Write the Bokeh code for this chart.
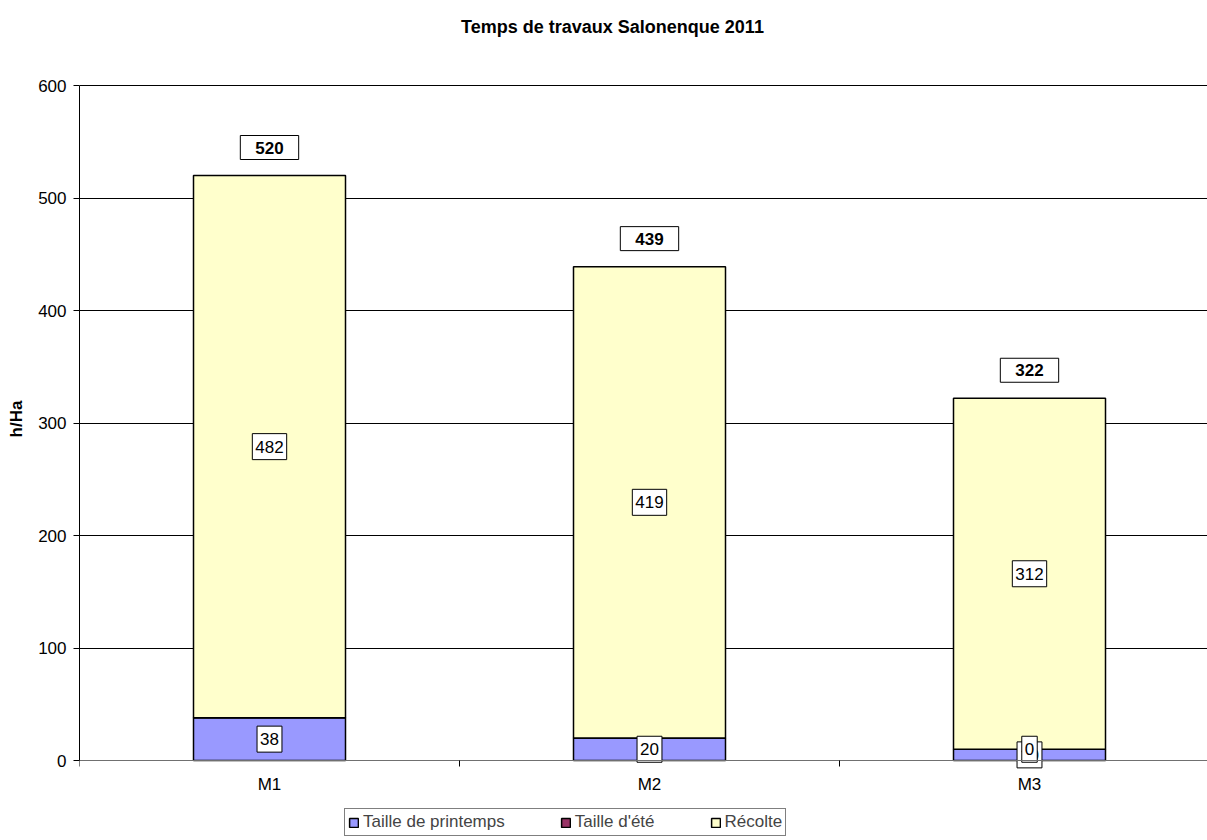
from bokeh.plotting import figure
from bokeh.models import Range1d, FixedTicker, Legend, LegendItem, Label
from bokeh.core.properties import value
from bokeh.embed import file_html
from bokeh.resources import INLINE

# ---- data ----
categories = ["M1", "M2", "M3"]
taille_printemps = [38, 20, 10]
taille_ete = [None, None, 0]
recolte = [482, 419, 312]
totals = [520, 439, 322]
y_ticks = [0, 100, 200, 300, 400, 500, 600]
series_names = ["Taille de printemps", "Taille d'été", "Récolte"]
colors = ["#9999FF", "#993366", "#FFFFCC"]
title_text = "Temps de travaux Salonenque 2011"
y_label = "h/Ha"

FONT = "Liberation Sans"

# ---- layout geometry (pixels) ----
FRAME_LEFT = 79
FRAME_W = 1128
CAT_PX = 380            # width of one category slot
ZERO_Y = 761            # pixel row of value 0
TOP_Y = 86              # pixel row of value 600
FRAME_TOP = 1
FRAME_BOTTOM = 838
px_per_unit = (ZERO_Y - TOP_Y) / 600.0
y_lo = -(FRAME_BOTTOM - ZERO_Y) / px_per_unit
y_hi = 600 + (TOP_Y - FRAME_TOP) / px_per_unit

xs = [i + 0.5 for i in range(len(categories))]
ete_vals = [v if v is not None else 0 for v in taille_ete]
top1 = list(taille_printemps)
top2 = [a + b for a, b in zip(top1, ete_vals)]
top3 = [a + b for a, b in zip(top2, recolte)]

p = figure(frame_width=FRAME_W, frame_height=FRAME_BOTTOM - FRAME_TOP, output_backend="svg",
           toolbar_location=None,
           x_range=Range1d(0, FRAME_W / CAT_PX), y_range=Range1d(y_lo, y_hi),
           min_border_left=FRAME_LEFT, min_border_right=0, min_border_top=0, min_border_bottom=1)
p.outline_line_color = None
p.background_fill_color = "white"
p.border_fill_color = "white"

bw = 0.4
r1 = p.vbar(x=xs, bottom=0, top=top1, width=bw, fill_color=colors[0], line_color="black", line_width=1.5)
r2 = p.vbar(x=xs, bottom=top1, top=top2, width=bw, fill_color=colors[1], line_color="black", line_width=1.5)
r3 = p.vbar(x=xs, bottom=top2, top=top3, width=bw, fill_color=colors[2], line_color="black", line_width=1.5)

# y axis
p.yaxis.ticker = FixedTicker(ticks=y_ticks)
p.yaxis.bounds = (0, 600)
p.yaxis.minor_tick_line_color = None
p.yaxis.major_tick_out = 6
p.yaxis.major_tick_in = 0
p.yaxis.axis_line_color = "black"
p.yaxis.major_tick_line_color = "black"
p.yaxis.major_label_text_font = FONT
p.yaxis.major_label_text_font_size = "17px"
p.yaxis.major_label_text_color = "black"
p.yaxis.major_label_standoff = 7
p.yaxis.axis_label = y_label
p.yaxis.axis_label_text_font = FONT
p.yaxis.axis_label_text_font_size = "17px"
p.yaxis.axis_label_text_font_style = "bold"
p.yaxis.axis_label_text_color = "black"
p.yaxis.axis_label_standoff = 9

# x axis (category axis drawn at value 0)
p.xaxis.fixed_location = 0
p.xaxis.ticker = FixedTicker(ticks=xs, minor_ticks=[0, 1, 2, 3])
p.xaxis.major_label_overrides = {x: c for x, c in zip(xs, categories)}
p.xaxis.major_tick_line_color = None
p.xaxis.major_tick_out = 0
p.xaxis.major_tick_in = 0
p.xaxis.minor_tick_out = 6
p.xaxis.minor_tick_in = 0
p.xaxis.minor_tick_line_color = "black"
p.xaxis.axis_line_color = "#707070"
p.xaxis.major_label_text_font = FONT
p.xaxis.major_label_text_font_size = "17px"
p.xaxis.major_label_text_color = "black"
p.xaxis.major_label_standoff = 8

p.xgrid.grid_line_color = None
p.ygrid.ticker = FixedTicker(ticks=y_ticks[1:])
p.ygrid.grid_line_color = "#000000"
p.ygrid.grid_line_width = 1

# title
p.add_layout(Label(x=(612 - FRAME_LEFT) / CAT_PX, y=(ZERO_Y - 27) / px_per_unit,
                   text=title_text, text_font=FONT, text_font_size="18px",
                   text_font_style="bold", text_color="black",
                   text_align="center", text_baseline="middle"))

# data labels
def box_labels(xv, yv, txt, bold=False, pad=(3, 7), yoff=0):
    p.text(x=xv, y=yv, text=txt, text_font=value(FONT), text_font_size="17px",
           text_font_style="bold" if bold else "normal", text_color="black",
           text_align="center", text_baseline="middle", y_offset=yoff,
           background_fill_color="white", border_line_color="black", border_line_width=1,
           padding=pad)

box_labels(xs, [t / 2 for t in top1], [str(v) for v in taille_printemps])
ete_x = [x for x, v in zip(xs, taille_ete) if v is not None]
ete_y = [b for b, v in zip(top2, taille_ete) if v is not None]
ete_t = [str(v) for v in taille_ete if v is not None]
box_labels(ete_x, ete_y, ete_t)
box_labels(xs, [(a + b) / 2 for a, b in zip(top2, top3)], [str(v) for v in recolte])
box_labels(xs, totals, [str(v) for v in totals], bold=True, pad=(15, 6), yoff=-28)

legend = Legend(items=[LegendItem(label=series_names[0], renderers=[r1]),
                       LegendItem(label=series_names[1], renderers=[r2]),
                       LegendItem(label=series_names[2], renderers=[r3])],
                orientation="horizontal", location=(344 - FRAME_LEFT, 1),
                label_text_font=FONT, label_text_font_size="17px",
                glyph_width=11, glyph_height=11, label_standoff=4, spacing=55,
                padding=3, margin=0, label_height=17,
                border_line_color="black", border_line_width=1,
                background_fill_color="white")
p.add_layout(legend)

open("out.html", "w").write(file_html(p, INLINE))
